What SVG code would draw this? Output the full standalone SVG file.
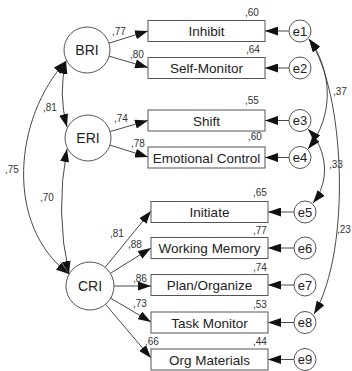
<svg xmlns="http://www.w3.org/2000/svg" width="352" height="371" viewBox="0 0 352 371">
<style>
.bg{fill:#ffffff}
.box{fill:#ffffff;stroke:#555;stroke-width:1}
.lat{fill:#ffffff;stroke:#555;stroke-width:1}
.err{fill:#ffffff;stroke:#555;stroke-width:1}
.ln{fill:none;stroke:#333;stroke-width:0.9}
.t{font-family:"Liberation Sans",Arial,sans-serif;fill:#222;text-anchor:middle}
.bt{font-size:13.5px}
.lt{font-size:14px}
.et{font-size:13px}
.n{font-family:"Liberation Sans",Arial,sans-serif;fill:#333;font-size:10px}
</style>
<defs>
<marker id="ah" markerUnits="userSpaceOnUse" markerWidth="13" markerHeight="9" refX="13" refY="4.5" orient="auto-start-reverse">
<path d="M0,0 L13,4.5 L0,9 z" fill="#111"/>
</marker>
</defs>
<rect class="bg" x="0" y="0" width="352" height="371"/>
<g id="connectors">
<path class="ln" d="M109,43.2 L148,31" marker-end="url(#ah)"/>
<path class="ln" d="M109.2,56.2 L148,67.5" marker-end="url(#ah)"/>
<path class="ln" d="M110,131.6 L148,120.5" marker-end="url(#ah)"/>
<path class="ln" d="M109.9,145.1 L148,157" marker-end="url(#ah)"/>
<path class="ln" d="M105.1,267.4 L151,211" marker-end="url(#ah)"/>
<path class="ln" d="M110.4,273.3 L151,248" marker-end="url(#ah)"/>
<path class="ln" d="M114,286 L151,286" marker-end="url(#ah)"/>
<path class="ln" d="M110.7,298.2 L151,322" marker-end="url(#ah)"/>
<path class="ln" d="M105.5,304.3 L151,358" marker-end="url(#ah)"/>
<path class="ln" d="M289,31 L265,31" marker-end="url(#ah)"/>
<path class="ln" d="M289,68 L265,68" marker-end="url(#ah)"/>
<path class="ln" d="M289,120.5 L265,120.5" marker-end="url(#ah)"/>
<path class="ln" d="M289,157.5 L265,157.5" marker-end="url(#ah)"/>
<path class="ln" d="M294,212 L268,212" marker-end="url(#ah)"/>
<path class="ln" d="M294,248 L268,248" marker-end="url(#ah)"/>
<path class="ln" d="M294,285 L268,285" marker-end="url(#ah)"/>
<path class="ln" d="M294,322.5 L268,322.5" marker-end="url(#ah)"/>
<path class="ln" d="M294,359.5 L268,359.5" marker-end="url(#ah)"/>
<path class="ln" d="M66,61 Q58,94 67,127" marker-start="url(#ah)" marker-end="url(#ah)"/>
<path class="ln" d="M67,149 Q55,212 69,274" marker-start="url(#ah)" marker-end="url(#ah)"/>
<path class="ln" d="M66,61 C14,118 4,225 69,274" marker-start="url(#ah)" marker-end="url(#ah)"/>
<path class="ln" d="M309,39 C332,70 335,115 308,149" marker-start="url(#ah)" marker-end="url(#ah)"/>
<path class="ln" d="M308,129 C328,150 330,182 313,203" marker-start="url(#ah)" marker-end="url(#ah)"/>
<path class="ln" d="M309,39 C345,90 352,250 314,314" marker-start="url(#ah)" marker-end="url(#ah)"/>
<text class="n" x="112" y="35">,77</text>
<text class="n" x="130" y="58">,80</text>
<text class="n" x="114" y="122">,74</text>
<text class="n" x="131" y="147">,78</text>
<text class="n" x="110" y="237">,81</text>
<text class="n" x="128" y="248">,88</text>
<text class="n" x="133" y="282">,86</text>
<text class="n" x="133" y="307">,73</text>
<text class="n" x="145" y="345">,66</text>
<text class="n" x="43" y="111">,81</text>
<text class="n" x="5" y="173">,75</text>
<text class="n" x="40" y="201">,70</text>
<text class="n" x="333" y="95">,37</text>
<text class="n" x="329" y="168">,33</text>
<text class="n" x="337" y="233">,23</text>
</g>
<g id="BRI"><circle class="lat" cx="87" cy="50" r="23"/><text class="t lt" x="87" y="55">BRI</text></g>
<g id="ERI"><circle class="lat" cx="88" cy="138" r="23"/><text class="t lt" x="88" y="143">ERI</text></g>
<g id="CRI"><circle class="lat" cx="90" cy="286" r="24"/><text class="t lt" x="90" y="291">CRI</text></g>
<g id="Inhibit"><rect class="box" x="148" y="20.5" width="117" height="21"/><text class="t bt" x="206.5" y="36">Inhibit</text><text class="n" x="245" y="16">,60</text></g>
<g id="SelfMonitor"><rect class="box" x="148" y="57.5" width="117" height="21"/><text class="t bt" x="206.5" y="73">Self-Monitor</text><text class="n" x="246" y="53">,64</text></g>
<g id="Shift"><rect class="box" x="148" y="110" width="117" height="21"/><text class="t bt" x="206.5" y="125.5">Shift</text><text class="n" x="245" y="104">,55</text></g>
<g id="EmotionalControl"><rect class="box" x="148" y="147" width="117" height="21"/><text class="t bt" x="206.5" y="162.5">Emotional Control</text><text class="n" x="248" y="140">,60</text></g>
<g id="Initiate"><rect class="box" x="151" y="201.5" width="117" height="21"/><text class="t bt" x="209.5" y="217">Initiate</text><text class="n" x="253" y="196">,65</text></g>
<g id="WorkingMemory"><rect class="box" x="151" y="237.5" width="117" height="21"/><text class="t bt" x="209.5" y="253">Working Memory</text><text class="n" x="253" y="234">,77</text></g>
<g id="PlanOrganize"><rect class="box" x="151" y="274.5" width="117" height="21"/><text class="t bt" x="209.5" y="290">Plan/Organize</text><text class="n" x="253" y="271">,74</text></g>
<g id="TaskMonitor"><rect class="box" x="151" y="312" width="117" height="21"/><text class="t bt" x="209.5" y="327.5">Task Monitor</text><text class="n" x="253" y="308">,53</text></g>
<g id="OrgMaterials"><rect class="box" x="151" y="349" width="117" height="21"/><text class="t bt" x="209.5" y="364.5">Org Materials</text><text class="n" x="253" y="345">,44</text></g>
<g id="e1"><circle class="err" cx="300" cy="31" r="11"/><text class="t et" x="300" y="35.5">e1</text></g>
<g id="e2"><circle class="err" cx="300" cy="68" r="11"/><text class="t et" x="300" y="72.5">e2</text></g>
<g id="e3"><circle class="err" cx="300" cy="120.5" r="11"/><text class="t et" x="300" y="125">e3</text></g>
<g id="e4"><circle class="err" cx="300" cy="157.5" r="11"/><text class="t et" x="300" y="162">e4</text></g>
<g id="e5"><circle class="err" cx="305" cy="212" r="11"/><text class="t et" x="305" y="216.5">e5</text></g>
<g id="e6"><circle class="err" cx="305" cy="248" r="11"/><text class="t et" x="305" y="252.5">e6</text></g>
<g id="e7"><circle class="err" cx="305" cy="285" r="11"/><text class="t et" x="305" y="289.5">e7</text></g>
<g id="e8"><circle class="err" cx="305" cy="322.5" r="11"/><text class="t et" x="305" y="327">e8</text></g>
<g id="e9"><circle class="err" cx="305" cy="359.5" r="11"/><text class="t et" x="305" y="364">e9</text></g>
</svg>
